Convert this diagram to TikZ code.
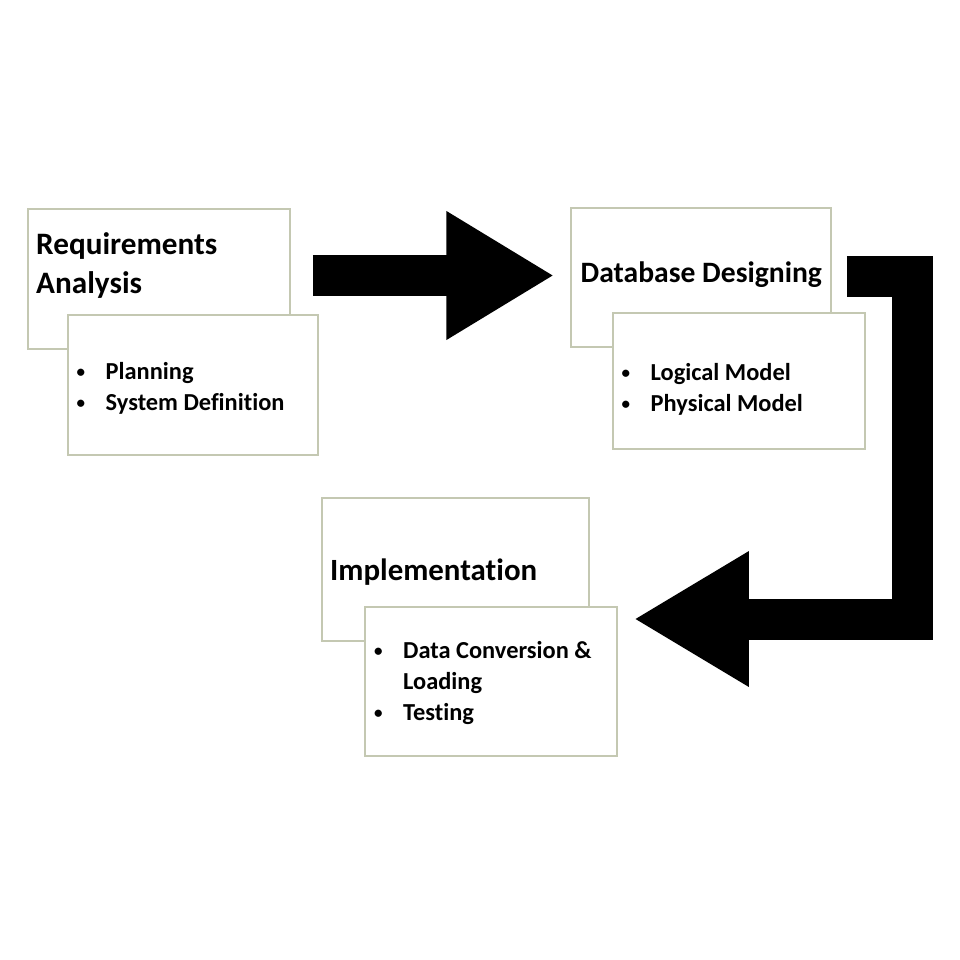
\documentclass[tikz,border=0pt]{standalone}
\usepackage{fontspec}
\setmainfont{Carlito}[Ligatures=NoCommon]
\usetikzlibrary{arrows.meta, calc}
\definecolor{boxline}{RGB}{196,200,178}
\newcommand{\stagebullet}{\makebox[29pt][l]{\raisebox{2pt}{\fontsize{17}{17}\selectfont\textbullet}}}

\begin{document}
\begin{tikzpicture}[
    x=1pt, y=-1pt,
    stage/.style={draw=boxline, line width=1.5pt, fill=white, inner sep=0pt},
    stagetext/.style={anchor=north west, inner sep=0pt, align=left, font=\bfseries\fontsize{#1}{32}\selectfont},
    stagetext/.default=30,
    steptext/.style={anchor=north west, inner sep=0pt, align=left, font=\bfseries\fontsize{24.4}{31}\selectfont},
    flow/.style={line width=41pt, black, line join=miter}
]
    \useasboundingbox (0,0) rectangle (960,960);

    % Stage boxes
    \node[stage, minimum width=262, minimum height=140] (req) at (159,279) {};
    \node[stagetext, font=\bfseries\fontsize{31.2}{39}\selectfont] (reqtxt) at (36,227.2) {Requirements\strut\\Analysis\strut};
    \node[stage, minimum width=250, minimum height=140] (reqsub) at (193,385) {};
    \node[steptext] (reqsubtxt) at (76.5,357.3) {\stagebullet Planning\strut\\\stagebullet System Definition\strut};

    \node[stage, minimum width=260, minimum height=139] (design) at (701,277.5) {};
    \node[stagetext=29.6] (designtxt) at (580.5,259.6) {Database Designing\strut};
    \node[stage, minimum width=252, minimum height=136] (designsub) at (739,381) {};
    \node[steptext] (designsubtxt) at (621.5,358.3) {\stagebullet Logical Model\strut\\\stagebullet Physical Model\strut};

    \node[stage, minimum width=267, minimum height=143] (impl) at (455.5,569.5) {};
    \node[stagetext=30.9] (impltxt) at (330,558.3) {Implementation\strut};
    \node[stage, minimum width=252, minimum height=149] (implsub) at (491,681.5) {};
    \node[steptext] (implsubtxt) at (374,637) {\stagebullet Data Conversion \&\strut\\\hspace*{29pt}Loading\strut\\\stagebullet Testing\strut};

    % Flow arrows
    \draw[flow, -{Triangle[length=108pt, width=121pt]}] ($(req.east)+(22,-3.5)$) -- ($(design.west)+(-16,-2)$);
    \draw[flow, -{Triangle[length=115pt, width=127pt]}] ($(design.east)+(15,-1)$) -| ($(designsub.east)+(46.5,238)$) -- ($(implsub.east)+(16,-62.5)$);
\end{tikzpicture}
\end{document}
